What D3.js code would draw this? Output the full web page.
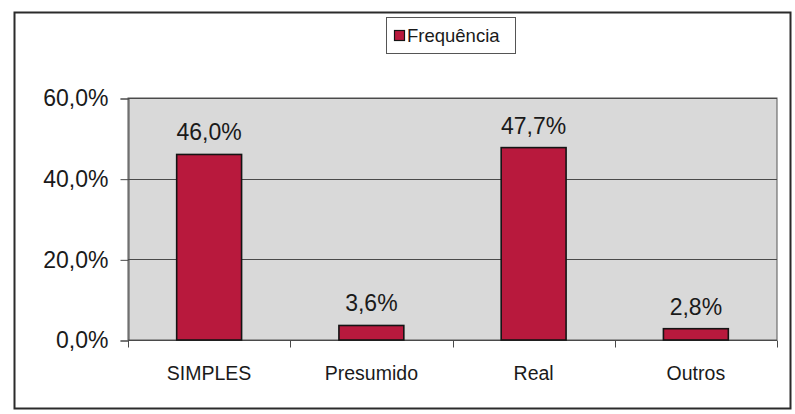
<!DOCTYPE html>
<html>
<head>
<meta charset="utf-8">
<script src="https://cdn.jsdelivr.net/npm/d3@7"></script>
<style>
  html, body { margin: 0; padding: 0; background: #ffffff; }
  svg { display: block; font-family: "Liberation Sans", Arial, sans-serif; }
</style>
</head>
<body>
<svg id="chart" width="795" height="414"></svg>
<script>
// Regime de tributação – frequência relativa
const categories = ["SIMPLES", "Presumido", "Real", "Outros"];
const frequencia = [46.0, 3.6, 47.7, 2.8];
const yTicks = [0, 20, 40, 60];
const seriesName = "Frequência";

const fmt = v => d3.format(".1f")(v).replace(".", ",") + "%";

const svg = d3.select("#chart");
const W = 795, H = 414;
const plot = { left: 128, right: 777, top: 98, bottom: 340 };

// outer chart frame
svg.append("rect")
  .attr("x", 14.5).attr("y", 12.5)
  .attr("width", 776).attr("height", 396)
  .attr("fill", "#ffffff")
  .attr("stroke", "#2b2b2b").attr("stroke-width", 2);

const x = d3.scaleBand()
  .domain(categories)
  .range([plot.left, plot.right])
  .paddingInner(0.6).paddingOuter(0.3);

const xOuter = d3.scaleBand().domain(categories).range([plot.left, plot.right]);

const y = d3.scaleLinear().domain([0, 60]).range([plot.bottom, plot.top]);

// plot area background
svg.append("rect")
  .attr("x", plot.left).attr("y", plot.top)
  .attr("width", plot.right - plot.left).attr("height", plot.bottom - plot.top)
  .attr("fill", "#d9d9d9")
  .attr("stroke", "#555").attr("stroke-width", 1);

// horizontal gridlines
svg.append("g")
  .selectAll("line")
  .data(yTicks)
  .join("line")
  .attr("x1", plot.left).attr("x2", plot.right)
  .attr("y1", d => Math.round(y(d)) + 0.5).attr("y2", d => Math.round(y(d)) + 0.5)
  .attr("stroke", "#4a4a4a").attr("stroke-width", 1);

// y axis
const yAxis = d3.axisLeft(y)
  .tickValues(yTicks)
  .tickSize(8)
  .tickPadding(12)
  .tickFormat(fmt);
const gy = svg.append("g")
  .attr("transform", `translate(${plot.left + 0.5},0.5)`)
  .call(yAxis);
gy.select(".domain").attr("stroke", "#4a4a4a");
gy.selectAll(".tick line").attr("stroke", "#4a4a4a");
gy.selectAll(".tick text")
  .attr("font-size", 23).attr("fill", "#1a1a1a")
  .attr("font-family", "Liberation Sans, Arial, sans-serif");

// x axis with ticks at the category boundaries
const gx = svg.append("g")
  .attr("transform", `translate(0,${plot.bottom + 0.5})`);
gx.append("line")
  .attr("x1", plot.left).attr("x2", plot.right)
  .attr("stroke", "#4a4a4a");
const boundaries = categories.map(c => xOuter(c)).concat([plot.right]);
gx.selectAll("line.tick")
  .data(boundaries)
  .join("line")
  .attr("class", "tick")
  .attr("x1", d => Math.round(d) + 0.5).attr("x2", d => Math.round(d) + 0.5)
  .attr("y1", 0).attr("y2", 7)
  .attr("stroke", "#4a4a4a");
gx.selectAll("text")
  .data(categories)
  .join("text")
  .attr("x", d => xOuter(d) + xOuter.bandwidth() / 2)
  .attr("y", 39)
  .attr("text-anchor", "middle")
  .attr("font-size", 19.5)
  .attr("fill", "#1a1a1a")
  .text(d => d);

// bars
svg.append("g")
  .selectAll("rect")
  .data(categories.map((c, i) => ({ c, v: frequencia[i] })))
  .join("rect")
  .attr("x", d => x(d.c))
  .attr("y", d => y(d.v))
  .attr("width", x.bandwidth())
  .attr("height", d => y(0) - y(d.v))
  .attr("fill", "#b8193d")
  .attr("stroke", "#141414").attr("stroke-width", 1.6);

// value labels
svg.append("g")
  .selectAll("text")
  .data(categories.map((c, i) => ({ c, v: frequencia[i] })))
  .join("text")
  .attr("x", d => x(d.c) + x.bandwidth() / 2)
  .attr("y", d => y(d.v) - 14)
  .attr("text-anchor", "middle")
  .attr("font-size", 23)
  .attr("fill", "#1a1a1a")
  .text(d => fmt(d.v));

// legend
const lg = svg.append("g").attr("transform", "translate(386,17)");
lg.append("rect")
  .attr("x", 0.5).attr("y", 0.5)
  .attr("width", 129).attr("height", 36)
  .attr("fill", "#ffffff")
  .attr("stroke", "#555").attr("stroke-width", 1);
lg.append("rect")
  .attr("x", 8.5).attr("y", 13.5)
  .attr("width", 10).attr("height", 10)
  .attr("fill", "#b8193d")
  .attr("stroke", "#141414").attr("stroke-width", 1.2);
lg.append("text")
  .attr("x", 21).attr("y", 25)
  .attr("font-size", 18.5)
  .attr("fill", "#1a1a1a")
  .text(seriesName);
</script>
</body>
</html>
